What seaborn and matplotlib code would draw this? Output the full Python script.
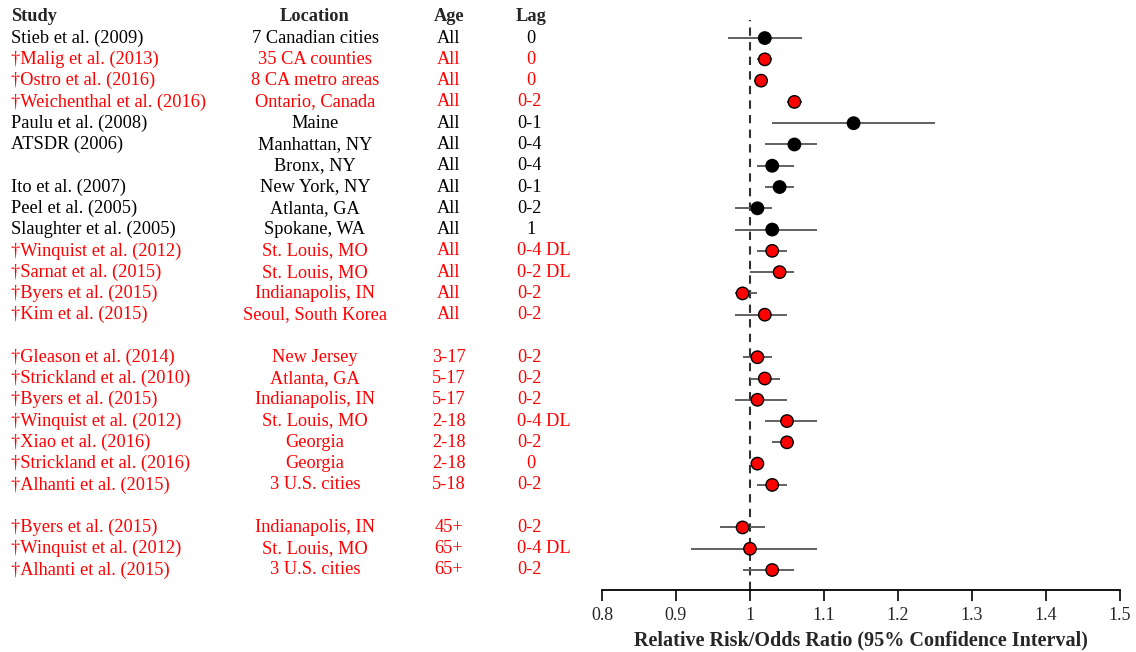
import pandas as pd
import matplotlib.pyplot as plt
import matplotlib.transforms as mtransforms
import seaborn as sns

study = ["Stieb et al. (2009)", "\u2020Malig et al. (2013)", "\u2020Ostro et al. (2016)",
         "\u2020Weichenthal et al. (2016)", "Paulu et al. (2008)", "ATSDR (2006)", "",
         "Ito et al. (2007)", "Peel et al. (2005)", "Slaughter et al. (2005)",
         "\u2020Winquist et al. (2012)", "\u2020Sarnat et al. (2015)", "\u2020Byers et al. (2015)",
         "\u2020Kim et al. (2015)",
         "\u2020Gleason et al. (2014)", "\u2020Strickland et al. (2010)", "\u2020Byers et al. (2015)",
         "\u2020Winquist et al. (2012)", "\u2020Xiao et al. (2016)", "\u2020Strickland et al. (2016)",
         "\u2020Alhanti et al. (2015)",
         "\u2020Byers et al. (2015)", "\u2020Winquist et al. (2012)", "\u2020Alhanti et al. (2015)"]
location = ["7 Canadian cities", "35 CA counties", "8 CA metro areas", "Ontario, Canada", "Maine",
            "Manhattan, NY", "Bronx, NY", "New York, NY", "Atlanta, GA", "Spokane, WA",
            "St. Louis, MO", "St. Louis, MO", "Indianapolis, IN", "Seoul, South Korea",
            "New Jersey", "Atlanta, GA", "Indianapolis, IN", "St. Louis, MO", "Georgia", "Georgia",
            "3 U.S. cities",
            "Indianapolis, IN", "St. Louis, MO", "3 U.S. cities"]
age = ["All"] * 14 + ["3-17", "5-17", "5-17", "2-18", "2-18", "2-18", "5-18", "45+", "65+", "65+"]
lag = ["0", "0", "0", "0-2", "0-1", "0-4", "0-4", "0-1", "0-2", "1", "0-4 DL", "0-2 DL", "0-2", "0-2",
       "0-2", "0-2", "0-2", "0-4 DL", "0-2", "0", "0-2",
       "0-2", "0-4 DL", "0-2"]
rr = [1.02, 1.02, 1.015, 1.06, 1.14, 1.06, 1.03, 1.04, 1.01, 1.03, 1.03, 1.04, 0.99, 1.02,
      1.01, 1.02, 1.01, 1.05, 1.05, 1.01, 1.03,
      0.99, 1.00, 1.03]
lo = [0.97, 1.01, 1.005, 1.05, 1.03, 1.02, 1.01, 1.02, 0.98, 0.98, 1.01, 1.00, 0.98, 0.98,
      0.99, 1.00, 0.98, 1.02, 1.03, 1.005, 1.01,
      0.96, 0.92, 0.99]
hi = [1.07, 1.03, 1.025, 1.07, 1.25, 1.09, 1.06, 1.06, 1.03, 1.09, 1.05, 1.06, 1.01, 1.05,
      1.03, 1.04, 1.05, 1.09, 1.06, 1.015, 1.05,
      1.02, 1.09, 1.06]
dagger = [s.startswith("\u2020") for s in study]
group = [0] * 14 + [1] * 7 + [2] * 3

df = pd.DataFrame({"study": study, "location": location, "age": age, "lag": lag,
                   "rr": rr, "lo": lo, "hi": hi, "dagger": dagger, "group": group})
df["row"] = df.index + df["group"]
df["kind"] = df["dagger"].map({True: "new", False: "old"})

sns.set_style("white")
plt.rcParams["font.family"] = ["Liberation Serif", "DejaVu Serif"]

fig = plt.figure(figsize=(11.36, 6.52), dpi=100)
ax = fig.add_axes([602 / 1136, 62 / 652, 518 / 1136, 570 / 652])

ax.hlines(df["row"], df["lo"], df["hi"], color="#606060", lw=1.4, zorder=2)
ax.axvline(1.0, color="#303030", ls=(0, (4, 3)), lw=1.5, zorder=1)
sns.scatterplot(data=df, x="rr", y="row", hue="kind", palette={"new": "#ff0000", "old": "black"},
                s=80, edgecolor="black", linewidth=1.0, legend=False, zorder=3, ax=ax)

ax.set_xlim(0.8, 1.5)
ax.set_ylim(25.94, -0.85)
ax.set_xticks([0.8, 0.9, 1.0, 1.1, 1.2, 1.3, 1.4, 1.5])
ax.set_xticklabels(["0.8", "0.9", "1", "1.1", "1.2", "1.3", "1.4", "1.5"], fontsize=13)
ax.set_yticks([])
ax.set_ylabel("")
ax.set_xlabel("Relative Risk/Odds Ratio (95% Confidence Interval)", fontsize=14.5,
              fontweight="bold", labelpad=5)
for side in ["top", "right", "left"]:
    ax.spines[side].set_visible(False)
ax.spines["bottom"].set_color("black")
ax.spines["bottom"].set_linewidth(1.3)
ax.tick_params(axis="x", direction="out", length=8, width=1.2, color="black", bottom=True, pad=4)

trans = mtransforms.blended_transform_factory(fig.transFigure, ax.transData)
fs = 13.2
head_y = -1.0
fig.text(11 / 1136, head_y, "Study", transform=trans, fontsize=fs, fontweight="bold", va="center")
fig.text(315 / 1136, head_y, "Location", transform=trans, fontsize=fs, fontweight="bold",
         va="center", ha="center")
fig.text(449 / 1136, head_y, "Age", transform=trans, fontsize=fs, fontweight="bold",
         va="center", ha="center")
fig.text(531 / 1136, head_y, "Lag", transform=trans, fontsize=fs, fontweight="bold",
         va="center", ha="center")

for _, r in df.iterrows():
    c = "#ff0000" if r["dagger"] else "black"
    y = r["row"]
    fig.text(11 / 1136, y, r["study"], transform=trans, fontsize=fs, color=c, va="center")
    fig.text(315 / 1136, y, r["location"], transform=trans, fontsize=fs, color=c,
             va="center", ha="center")
    fig.text(449 / 1136, y, r["age"], transform=trans, fontsize=fs, color=c,
             va="center", ha="center")
    if len(r["lag"]) == 1:
        fig.text(531 / 1136, y, r["lag"], transform=trans, fontsize=fs, color=c,
                 va="center", ha="center")
    else:
        fig.text(517 / 1136, y, r["lag"], transform=trans, fontsize=fs, color=c, va="center")

fig.savefig("out.png", dpi=100)
